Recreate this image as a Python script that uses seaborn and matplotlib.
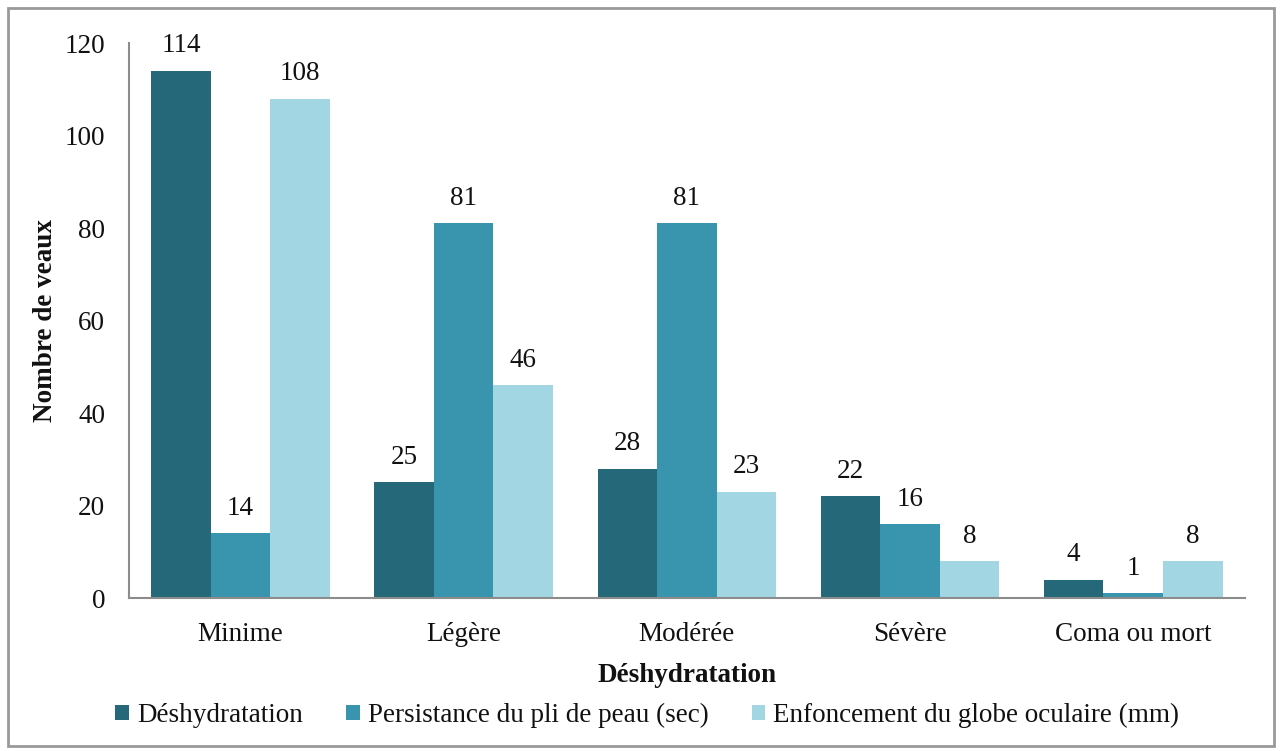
import matplotlib
matplotlib.use("Agg")
import matplotlib.pyplot as plt
from matplotlib.patches import Rectangle
import seaborn as sns
import pandas as pd

categories = ["Minime", "Légère", "Modérée", "Sévère", "Coma ou mort"]
series_names = [
    "Déshydratation",
    "Persistance du pli de peau (sec)",
    "Enfoncement du globe oculaire (mm)",
]
deshydratation = [114, 25, 28, 22, 4]
pli_de_peau = [14, 81, 81, 16, 1]
globe_oculaire = [108, 46, 23, 8, 8]
colors = ["#24687A", "#3895AD", "#A1D6E2"]

rows = []
for name, vals in zip(series_names, [deshydratation, pli_de_peau, globe_oculaire]):
    for cat, v in zip(categories, vals):
        rows.append({"Déshydratation": cat, "Série": name, "Nombre de veaux": v})
df = pd.DataFrame(rows)

sns.set_style("white")
plt.rcParams["font.family"] = ["Liberation Serif", "DejaVu Serif"]
FS = 19.5

fig = plt.figure(figsize=(12.82, 7.51), dpi=100)
ax = fig.add_axes([0.1006, 0.2037, 0.8704, 0.739])

sns.barplot(
    data=df, x="Déshydratation", y="Nombre de veaux", hue="Série",
    hue_order=series_names, order=categories, palette=colors,
    width=0.8, saturation=1, ax=ax, legend=True, errorbar=None,
    linewidth=0, edgecolor="none",
)

for cont in ax.containers:
    ax.bar_label(cont, fmt="%d", padding=9, fontsize=FS, color="#111111")

ax.set_ylim(0, 120)
ax.set_xlim(-0.5, 4.5)
ax.set_yticks(range(0, 121, 20))
ax.tick_params(axis="y", labelsize=FS, pad=17, length=0, labelcolor="#111111")
ax.tick_params(axis="x", labelsize=FS, pad=17, length=0, labelcolor="#111111")
for s in ["top", "right"]:
    ax.spines[s].set_visible(False)
for s in ["left", "bottom"]:
    ax.spines[s].set_color("#8c8c8c")
    ax.spines[s].set_linewidth(1.5)

ax.set_xlabel("Déshydratation", fontsize=FS, fontweight="bold", color="#111111")
ax.xaxis.label.set_va("center")
ax.xaxis.set_label_coords(0.5, -0.139)
ax.set_ylabel("Nombre de veaux", fontsize=FS, fontweight="bold", color="#111111")
ax.yaxis.label.set_va("center")
ax.yaxis.set_label_coords(-0.075, 0.5)

handles, labels = ax.get_legend_handles_labels()
ax.get_legend().remove()
fig.legend(
    handles, labels, loc="center", bbox_to_anchor=(0.505, 0.047), ncol=3,
    frameon=False, fontsize=FS, handlelength=0.5, handleheight=0.5,
    handletextpad=0.3, columnspacing=1.6, labelcolor="#111111",
)

fig.patches.append(Rectangle((0.006, 0.006), 0.988, 0.984, transform=fig.transFigure,
                             fill=False, edgecolor="#999999", linewidth=2))

fig.savefig("out.png", dpi=100, facecolor="white")
